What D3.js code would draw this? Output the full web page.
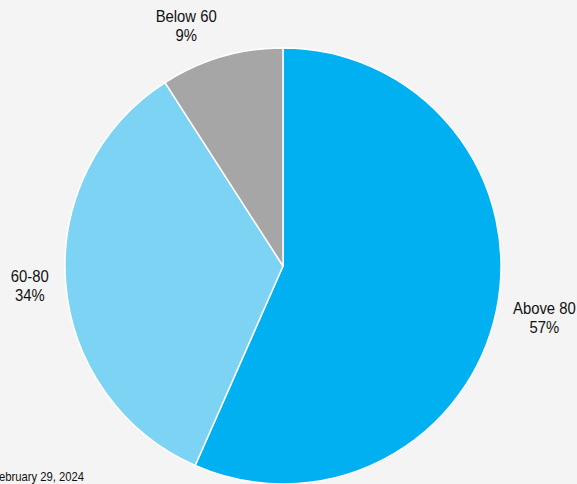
<!DOCTYPE html>
<html>
<head>
<meta charset="utf-8">
<script src="https://cdn.jsdelivr.net/npm/d3@7/dist/d3.min.js"></script>
<style>
  html, body { margin: 0; padding: 0; background: #f4f4f4; overflow: hidden; }
  svg { display: block; }
  text { font-family: "Liberation Sans", Arial, sans-serif; fill: #111111; }
</style>
</head>
<body>
<svg id="chart"></svg>
<script>
// slices, clockwise from 12 o'clock
var categories = ["Above 80", "60-80", "Below 60"];
var shares = [56.6, 34.3, 9.1];
var colors = ["#00b0f0", "#7dd3f3", "#a6a6a6"];
var footnote = "February 29, 2024";

var width = 577, height = 484;
var cx = 283, cy = 266, radius = 218;
var squeeze = 0.9;   // narrow look of the original font

var svg = d3.select("#chart").attr("width", width).attr("height", height);
svg.append("rect").attr("width", width).attr("height", height).attr("fill", "#f4f4f4");

var pie = d3.pie().sort(null).value(function (d) { return d; });
var arcs = pie(shares);

var arc = d3.arc().innerRadius(0).outerRadius(radius);
var labelArc = d3.arc().innerRadius(radius + 17).outerRadius(radius + 17);

var g = svg.append("g").attr("transform", "translate(" + cx + "," + cy + ")");

g.selectAll("path.slice")
    .data(arcs)
    .enter().append("path")
    .attr("class", "slice")
    .attr("d", arc)
    .attr("fill", function (d, i) { return colors[i]; })
    .attr("stroke", "#ffffff")
    .attr("stroke-width", 1.5)
    .attr("stroke-linejoin", "round");

var fontSize = 16.5, lineH = 19.5, cap = fontSize * 0.716;
var labels = g.selectAll("g.label")
    .data(arcs)
    .enter().append("g")
    .attr("class", "label");

labels.each(function (d, i) {
    var sel = d3.select(this);
    var t = sel.append("text")
        .attr("text-anchor", "middle")
        .style("font-size", fontSize + "px");
    t.append("tspan").attr("x", 0).attr("y", 0).text(categories[i]);
    t.append("tspan").attr("x", 0).attr("y", lineH).text(Math.round(shares[i]) + "%");

    var w = 0;
    t.selectAll("tspan").each(function () { w = Math.max(w, this.getComputedTextLength()); });
    w *= squeeze;
    var h = cap + lineH;
    var p = labelArc.centroid(d);
    var mid = (d.startAngle + d.endAngle) / 2;
    var sx = Math.sin(mid), sy = -Math.cos(mid);
    var kx = Math.max(-1, Math.min(1, sx * 4));
    var centerX = p[0] + kx * w / 2;
    var centerY = p[1] + sy * h / 2;
    var baseY = centerY - (lineH - cap) / 2;
    sel.attr("transform", "translate(" + centerX + "," + baseY + ") scale(" + squeeze + ",1)");
});

svg.append("g")
    .attr("transform", "translate(84,481) scale(" + squeeze + ",1)")
    .append("text")
    .attr("text-anchor", "end")
    .style("font-size", "12.5px")
    .text(footnote);
</script>
</body>
</html>
